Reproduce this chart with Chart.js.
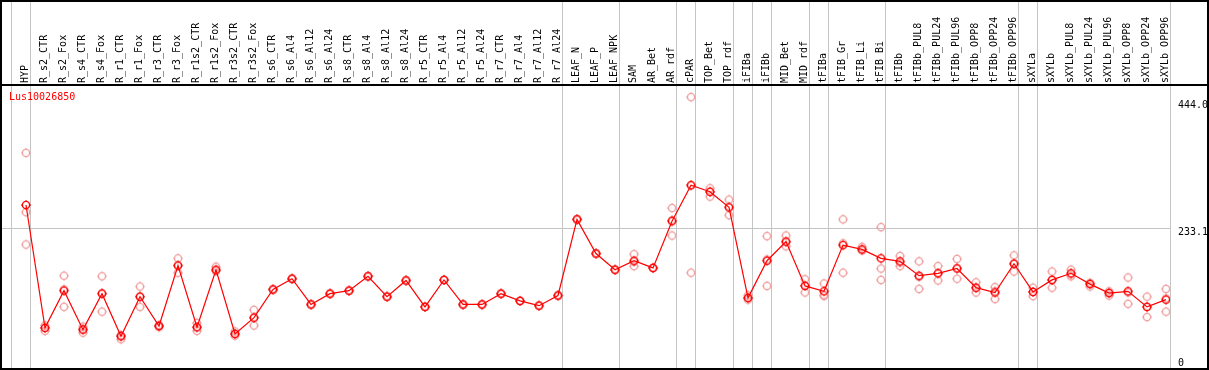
<!DOCTYPE html>
<html lang="en">
<head>
<meta charset="UTF-8">
<title>Lus10026850 expression</title>
<script src="https://cdn.jsdelivr.net/npm/chart.js"></script>
<style>
  body { margin: 0; background: #fff; }
  canvas { display: block; }
</style>
</head>
<body>
<canvas id="expr" width="1209" height="370"></canvas>
<script>
const geneName = 'Lus10026850';

const samples = [
  'HYP',
  'R_s2_CTR', 'R_s2_Fox', 'R_s4_CTR', 'R_s4_Fox', 'R_r1_CTR', 'R_r1_Fox', 'R_r3_CTR', 'R_r3_Fox',
  'R_r1s2_CTR', 'R_r1s2_Fox', 'R_r3s2_CTR', 'R_r3s2_Fox',
  'R_s6_CTR', 'R_s6_Al4', 'R_s6_Al12', 'R_s6_Al24', 'R_s8_CTR', 'R_s8_Al4', 'R_s8_Al12', 'R_s8_Al24',
  'R_r5_CTR', 'R_r5_Al4', 'R_r5_Al12', 'R_r5_Al24', 'R_r7_CTR', 'R_r7_Al4', 'R_r7_Al12', 'R_r7_Al24',
  'LEAF_N', 'LEAF_P', 'LEAF_NPK', 'SAM', 'AR_Bet', 'AR_rdf', 'cPAR', 'TOP_Bet', 'TOP_rdf',
  'iFIBa', 'iFIBb', 'MID_Bet', 'MID_rdf', 'tFIBa', 'tFIB_Gr', 'tFIB_Li', 'tFIB_Bi',
  'tFIBb', 'tFIBb_PUL8', 'tFIBb_PUL24', 'tFIBb_PUL96', 'tFIBb_OPP8', 'tFIBb_OPP24', 'tFIBb_OPP96',
  'sXYLa', 'sXYLb', 'sXYLb_PUL8', 'sXYLb_PUL24', 'sXYLb_PUL96', 'sXYLb_OPP8', 'sXYLb_OPP24', 'sXYLb_OPP96'
];

// mean of the replicates (red line)
const meanValues = [
  272,
  67, 129, 64, 124, 53, 119, 70, 171,
  68, 164, 57, 84,
  131, 149, 106, 124, 129, 153, 119, 146,
  102, 147, 106, 106, 124, 112, 104, 121,
  248, 191, 164, 179, 167, 245, 305, 294, 268,
  117, 179, 211, 137, 128, 205, 198, 183,
  178, 154, 158, 166, 134, 126, 174,
  127, 147, 158, 140, 125, 128, 102, 114
];

// single replicates (pale circles)
const rep1 = [
  359,
  71, 154, 69, 153, 55, 136, 72, 183,
  75, 169, 61, 97,
  131, 149, 106, 124, 129, 153, 119, 146,
  102, 147, 106, 106, 124, 112, 104, 121,
  248, 191, 164, 190, 167, 267, 452, 300, 281,
  121, 220, 221, 148, 141, 248, 202, 235,
  187, 178, 170, 182, 143, 135, 188,
  134, 161, 164, 142, 128, 151, 119, 132
];
const rep2 = [
  206,
  62, 102, 59, 94, 48, 102, 68, 159,
  62, 162, 54, 71,
  131, 149, 106, 124, 129, 153, 119, 146,
  102, 147, 106, 106, 124, 112, 104, 121,
  248, 191, 164, 170, 167, 221, 159, 286, 255,
  114, 137, 203, 126, 120, 159, 196, 147,
  170, 132, 146, 149, 126, 115, 161,
  120, 134, 153, 136, 121, 107, 85, 94
];
const rep3 = [
  260,
  67, 131, 65, 125, 53, 119, 70, 171,
  68, 162, 57, 84,
  131, 149, 106, 124, 129, 153, 119, 146,
  102, 147, 106, 106, 124, 112, 104, 121,
  248, 191, 164, 177, 167, 247, 305, 294, 269,
  117, 181, 210, 138, 122, 208, 197, 166,
  176, 152, 158, 167, 134, 128, 174,
  127, 147, 156, 141, 126, 126, 102, 116
];

const yTickValues = [0, 233.1, 444.0];

// sample index after which a grey separator is drawn (-1 = before the first)
const groupEnds = [-1, 0, 28, 31, 34, 35, 37, 38, 39, 41, 42, 45, 52, 53, 60];

const FONT = '10px "DejaVu Sans Mono", "Liberation Mono", monospace';

function makeMarker(color) {
  const c = document.createElement('canvas');
  c.width = 12;
  c.height = 12;
  const g = c.getContext('2d');
  g.strokeStyle = color;
  g.lineWidth = 1.4;
  g.beginPath();
  g.arc(6, 6, 3.6, 0, Math.PI * 2);
  g.stroke();
  g.lineWidth = 1;
  g.beginPath();
  g.moveTo(6, 1); g.lineTo(6, 2.6);
  g.moveTo(6, 9.4); g.lineTo(6, 11);
  g.moveTo(1, 6); g.lineTo(2.6, 6);
  g.moveTo(9.4, 6); g.lineTo(11, 6);
  g.stroke();
  return c;
}

const meanMarker = makeMarker('#ff0000');
const repMarker = makeMarker('#f0a0a0');

const toPoints = arr => arr.map((v, i) => ({ x: i, y: v }));

const frame = {
  id: 'frame',
  beforeDatasetsDraw(chart) {
    const ctx = chart.ctx;
    const x = chart.scales.x;
    ctx.save();
    ctx.strokeStyle = '#c4c4c4';
    ctx.lineWidth = 1;
    groupEnds.forEach(b => {
      const px = Math.round(x.getPixelForValue(b + 0.25)) - 0.5;
      ctx.beginPath();
      ctx.moveTo(px, 0);
      ctx.lineTo(px, 368);
      ctx.stroke();
    });
    ctx.restore();
  },
  afterDraw(chart) {
    const ctx = chart.ctx;
    const y = chart.scales.y;
    const w = chart.width, h = chart.height;
    ctx.save();
    ctx.fillStyle = '#000';
    ctx.fillRect(0, 0, w, 2);
    ctx.fillRect(0, 84, w, 2);
    ctx.fillRect(0, h - 2, w, 2);
    ctx.fillRect(0, 0, 2, h);
    ctx.fillRect(w - 2, 0, 2, h);

    ctx.font = FONT;
    ctx.textAlign = 'left';
    y.ticks.forEach(t => {
      const py = y.getPixelForValue(t.value);
      const label = t.value === 0 ? '0' : t.value.toFixed(1);
      if (t.value === 0) {
        ctx.textBaseline = 'alphabetic';
        ctx.fillText(label, 1178, py - 2.5);
      } else {
        ctx.textBaseline = 'top';
        ctx.fillText(label, 1178, py - 1);
      }
    });

    ctx.fillStyle = '#ff0000';
    ctx.textBaseline = 'middle';
    ctx.fillText(geneName, 9, 97);
    ctx.restore();
  }
};

const repStyle = {
  showLine: false,
  pointStyle: repMarker,
  pointRadius: 4,
  borderColor: '#f0a0a0',
  backgroundColor: '#f0a0a0'
};

new Chart(document.getElementById('expr'), {
  type: 'line',
  data: {
    datasets: [
      {
        label: 'mean',
        data: toPoints(meanValues),
        borderColor: '#ff0000',
        backgroundColor: '#ff0000',
        borderWidth: 1.2,
        pointStyle: meanMarker,
        pointRadius: 4,
        tension: 0
      },
      Object.assign({ label: 'rep1', data: toPoints(rep1) }, repStyle),
      Object.assign({ label: 'rep2', data: toPoints(rep2) }, repStyle),
      Object.assign({ label: 'rep3', data: toPoints(rep3) }, repStyle)
    ]
  },
  options: {
    responsive: false,
    animation: false,
    layout: { autoPadding: false, padding: { top: 0, left: 2, right: 0, bottom: 2 } },
    plugins: {
      legend: { display: false },
      tooltip: { enabled: false }
    },
    scales: {
      x: {
        type: 'linear',
        position: 'top',
        min: -1.263,
        max: 60.21,
        grid: { display: false, drawTicks: false },
        border: { display: false },
        afterBuildTicks: s => { s.ticks = samples.map((_, i) => ({ value: i })); },
        afterFit: s => {
          s.height = 85;
          s.paddingLeft = 0;
          s.paddingRight = 0;
        },
        ticks: {
          autoSkip: false,
          minRotation: 90,
          maxRotation: 90,
          padding: 2,
          labelOffset: 11,
          color: '#000',
          font: { family: '"DejaVu Sans Mono", monospace', size: 10 },
          callback: v => samples[v] || ''
        }
      },
      y: {
        type: 'linear',
        position: 'right',
        min: 0,
        max: 472.2,
        afterBuildTicks: s => { s.ticks = yTickValues.map(v => ({ value: v })); },
        afterFit: s => {
          s.width = 39;
          s.paddingTop = 0;
          s.paddingBottom = 0;
        },
        ticks: { display: false },
        border: { display: false },
        grid: {
          drawTicks: false,
          lineWidth: 1,
          color: c => (c.tick && c.tick.value === 233.1) ? '#c4c4c4' : 'rgba(0,0,0,0)'
        }
      }
    }
  },
  plugins: [frame]
});
</script>
</body>
</html>
